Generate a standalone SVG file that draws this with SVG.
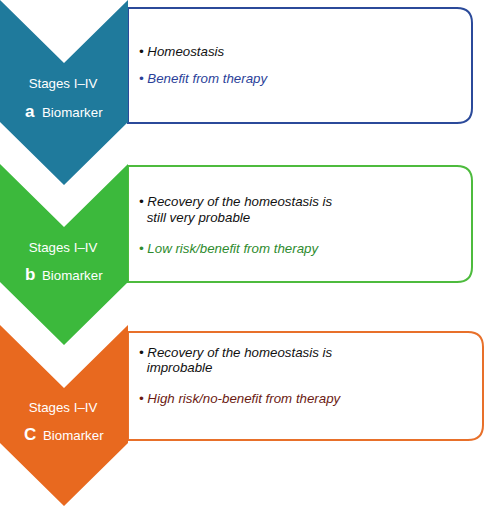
<svg xmlns="http://www.w3.org/2000/svg" width="487" height="507" viewBox="0 0 487 507">
<style>
.lab{font-family:"Liberation Sans",Arial,sans-serif;font-size:13.3px;fill:#ffffff}
.big{font-weight:bold;font-size:17px}
.txt{font-family:"Liberation Sans",Arial,sans-serif;font-size:13.3px;font-style:italic;fill:#111111}
.box{fill:#ffffff;stroke-width:2}
</style>
<rect width="487" height="507" fill="#ffffff"/>
<g id="stage-a">
<path class="box" stroke="#2b4a9a" d="M128,8 H457 Q472,8 472,23 V108 Q472,123 457,123 H128 Z"/>
<polygon fill="#1f7a9c" points="0,0 64,63 128,0 128,122 64,185 0,122"/>
<text class="lab" x="63" y="88" text-anchor="middle">Stages I–IV</text>
<text class="lab"><tspan class="big" x="25" y="117">a</tspan><tspan x="42" y="117">Biomarker</tspan></text>
<text class="txt" x="139" y="56">• Homeostasis</text>
<text class="txt" x="139" y="83" style="fill:#2b3f99">• Benefit from therapy</text>
</g>
<g id="stage-b">
<path class="box" stroke="#4dbb3d" d="M128,166 H457 Q472,166 472,181 V267 Q472,282 457,282 H128 Z"/>
<polygon fill="#3cb93c" points="0,164 64,227 128,164 128,282 64,345 0,282"/>
<text class="lab" x="63" y="251.5" text-anchor="middle">Stages I–IV</text>
<text class="lab"><tspan class="big" x="25" y="280">b</tspan><tspan x="42" y="280">Biomarker</tspan></text>
<text class="txt" x="139" y="205.5">• Recovery of the homeostasis is</text>
<text class="txt" x="146.7" y="221.5">still very probable</text>
<text class="txt" x="139" y="252.5" style="fill:#2e8b2e">• Low risk/benefit from therapy</text>
</g>
<g id="stage-c">
<path class="box" stroke="#e8702a" d="M128,332 H468 Q483,332 483,347 V425 Q483,440 468,440 H128 Z"/>
<polygon fill="#e8691f" points="0,325 64,388 128,325 128,443 64,506 0,443"/>
<text class="lab" x="63" y="412" text-anchor="middle">Stages I–IV</text>
<text class="lab"><tspan class="big" x="24" y="440">C</tspan><tspan x="43" y="440">Biomarker</tspan></text>
<text class="txt" x="139" y="356.5">• Recovery of the homeostasis is</text>
<text class="txt" x="146.7" y="371.5">improbable</text>
<text class="txt" x="139" y="403" style="fill:#6b1a12">• High risk/no-benefit from therapy</text>
</g>
<g id="connectors"></g>
</svg>
